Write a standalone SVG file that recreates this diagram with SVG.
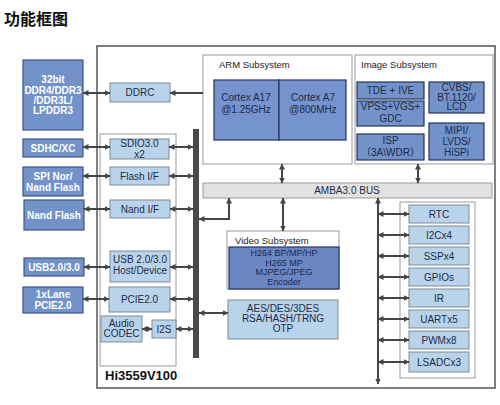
<svg xmlns="http://www.w3.org/2000/svg" width="500" height="405" viewBox="0 0 500 405">
<defs>
<style>
text{font-family:"Liberation Sans",Arial,"Noto Sans CJK SC",sans-serif;}
.ext rect{fill:#7292c9;stroke:#3e5684;stroke-width:1.2;}
.ext text{fill:#fff;font-weight:bold;font-size:10px;text-anchor:middle;}
.lb rect{fill:#b9d4ea;stroke:#7d8b98;stroke-width:1;}
.lb text{fill:#1c2a48;font-size:10px;text-anchor:middle;}
.sub{fill:#fff;stroke:#9a9a9a;stroke-width:1;}
.lbl{fill:#222;font-size:9.5px;}
.db{fill:#7593cc;stroke:#26345a;stroke-width:1.2;}
.dbt{fill:#1c2a48;font-size:10px;text-anchor:middle;}
.cn line,.cn path{stroke:#454545;stroke-width:2;fill:none;}
.bi{marker-start:url(#ah);marker-end:url(#ah);}
.one{marker-end:url(#ah);}
</style>
<marker id="ah" markerUnits="userSpaceOnUse" markerWidth="6" markerHeight="6" refX="5.5" refY="3" orient="auto-start-reverse">
<path d="M0,0 L6,3 L0,6 z" fill="#454545"/>
</marker>
</defs>
<rect width="500" height="405" fill="#fff"/>
<text x="4" y="25" font-size="16" font-weight="bold" fill="#111" style="font-family:'Noto Sans CJK SC',sans-serif">功能框图</text>

<g id="chip"><rect x="97" y="46" width="398" height="342" fill="#fff" stroke="#555" stroke-width="1.5"/></g>
<g id="leftpanel"><rect x="100" y="134" width="76" height="232" class="sub"/>
<text x="105" y="380" font-size="13" font-weight="bold" fill="#111">Hi3559V100</text></g>

<g id="ddr" class="ext"><rect x="23" y="60" width="60" height="70"/>
<text x="53" y="83">32bit</text><text x="53" y="94">DDR4/DDR3</text><text x="53" y="104">/DDR3L/</text><text x="53" y="114">LPDDR3</text></g>
<g id="sdhc" class="ext"><rect x="23" y="139" width="60" height="18"/><text x="53" y="152">SDHC/XC</text></g>
<g id="spi" class="ext"><rect x="23" y="167" width="60" height="29"/><text x="53" y="180">SPI Nor/</text><text x="53" y="191">Nand Flash</text></g>
<g id="nand" class="ext"><rect x="24" y="200" width="60" height="30"/><text x="54" y="219">Nand Flash</text></g>
<g id="usb" class="ext"><rect x="24" y="258" width="60" height="18"/><text x="54" y="271">USB2.0/3.0</text></g>
<g id="pcie" class="ext"><rect x="23" y="287" width="60" height="26"/><text x="53" y="298">1xLane</text><text x="53" y="309">PCIE2.0</text></g>

<g id="ddrc" class="lb"><rect x="110" y="83" width="60" height="19"/><text x="140" y="96">DDRC</text></g>
<g id="sdio" class="lb"><rect x="110" y="139" width="59" height="20"/><text x="139.5" y="147">SDIO3.0</text><text x="139.5" y="158">x2</text></g>
<g id="flashif" class="lb"><rect x="110" y="167" width="59" height="18"/><text x="139.5" y="180">Flash I/F</text></g>
<g id="nandif" class="lb"><rect x="110" y="200" width="60" height="18"/><text x="140" y="213">Nand I/F</text></g>
<g id="usbhd" class="lb"><rect x="110" y="251" width="60" height="31"/><text x="140" y="263">USB 2.0/3.0</text><text x="140" y="274">Host/Device</text></g>
<g id="pcie2" class="lb"><rect x="109" y="287" width="61" height="25"/><text x="139.5" y="303">PCIE2.0</text></g>
<g id="audio" class="lb"><rect x="101" y="316" width="41" height="26"/><text x="121.5" y="327" font-size="9">Audio</text><text x="121.5" y="337" font-size="9">CODEC</text></g>
<g id="i2s" class="lb"><rect x="152" y="320" width="24" height="18"/><text x="164" y="333">I2S</text></g>

<g id="bar"><rect x="193" y="129" width="6" height="229" fill="#4a4a4a"/></g>

<g id="arm"><rect x="203" y="55" width="149" height="109" class="sub"/>
<text x="219" y="68" class="lbl">ARM Subsystem</text>
<rect x="214" y="80" width="65" height="60" class="db"/><rect x="279" y="80" width="67" height="60" class="db"/>
<text x="246" y="101" class="dbt">Cortex A17</text><text x="246" y="113" class="dbt">@1.25GHz</text>
<text x="313" y="101" class="dbt">Cortex A7</text><text x="313" y="113" class="dbt">@800MHz</text></g>

<g id="image"><rect x="355" y="55" width="138" height="109" class="sub"/>
<text x="361" y="68" class="lbl">Image Subsystem</text>
<g class="ext"><rect x="357" y="82" width="67" height="17" style="stroke:#26345a"/><rect x="357" y="101" width="67" height="25" style="stroke:#26345a"/><rect x="357" y="134" width="67" height="26" style="stroke:#26345a"/><rect x="429" y="82" width="55" height="31" style="stroke:#26345a"/><rect x="429" y="123" width="55" height="37" style="stroke:#26345a"/></g>
<text x="390.5" y="94" class="dbt">TDE + IVE</text>
<text x="390.5" y="110" class="dbt">VPSS+VGS+</text><text x="390.5" y="122" class="dbt">GDC</text>
<text x="390.5" y="144" class="dbt">ISP</text><text x="390.5" y="156" class="dbt">（3A\WDR）</text>
<text x="456.5" y="91" class="dbt">CVBS/</text><text x="456.5" y="100.5" class="dbt">BT.1120/</text><text x="456.5" y="110" class="dbt">LCD</text>
<text x="456.5" y="134" class="dbt">MIPI/</text><text x="456.5" y="145" class="dbt">LVDS/</text><text x="456.5" y="156" class="dbt">HiSPi</text></g>

<g id="amba"><rect x="203" y="183" width="289" height="15" fill="#e2e2e2" stroke="#9a9a9a"/>
<text x="347" y="194" font-size="10" fill="#1c2a48" text-anchor="middle">AMBA3.0 BUS</text></g>

<g id="video"><rect x="227" y="231" width="112" height="58" class="sub"/>
<text x="235" y="244" class="lbl">Video Subsystem</text>
<rect x="229" y="247" width="110" height="42" fill="#6a87c4" stroke="#26345a" stroke-width="1.2"/>
<g font-size="9" fill="#1c2a48" text-anchor="middle"><text x="284" y="256">H264 BP/MP/HP</text><text x="284" y="265.5">H265 MP</text><text x="284" y="275">MJPEG/JPEG</text><text x="284" y="284.5">Encoder</text></g></g>

<g id="crypto" class="lb"><rect x="228" y="300" width="110" height="39"/><text x="283" y="312">AES/DES/3DES</text><text x="283" y="322">RSA/HASH/TRNG</text><text x="283" y="332">OTP</text></g>

<g id="periph"><rect x="400" y="202" width="75" height="176" class="sub"/>
<g class="lb">
<rect x="409" y="205" width="60" height="18"/><text x="439" y="218">RTC</text>
<rect x="409" y="226" width="60" height="18"/><text x="439" y="239">I2Cx4</text>
<rect x="409" y="247" width="60" height="18"/><text x="439" y="260">SSPx4</text>
<rect x="409" y="268" width="60" height="18"/><text x="439" y="281">GPIOs</text>
<rect x="409" y="289" width="60" height="18"/><text x="439" y="302">IR</text>
<rect x="409" y="310" width="60" height="18"/><text x="439" y="323">UARTx5</text>
<rect x="409" y="331" width="60" height="18"/><text x="439" y="344">PWMx8</text>
<rect x="409" y="352" width="60" height="20"/><text x="439" y="366">LSADCx3</text>
</g></g>

<g id="connectors" class="cn">
<line x1="83" y1="93" x2="110" y2="93" class="bi"/>
<line x1="203" y1="93" x2="170" y2="93" class="one"/>
<line x1="83" y1="147" x2="110" y2="147" class="bi"/>
<line x1="169" y1="147" x2="193" y2="147" class="bi"/>
<line x1="83" y1="176" x2="110" y2="176" class="bi"/>
<line x1="169" y1="176" x2="193" y2="176" class="bi"/>
<line x1="84" y1="209" x2="110" y2="209" class="bi"/>
<line x1="170" y1="209" x2="193" y2="209" class="bi"/>
<line x1="84" y1="267" x2="110" y2="267" class="bi"/>
<line x1="170" y1="267" x2="193" y2="267" class="bi"/>
<line x1="83" y1="299" x2="109" y2="299" class="bi"/>
<line x1="170" y1="299" x2="193" y2="299" class="bi"/>
<line x1="142" y1="329" x2="152" y2="329" class="bi"/>
<line x1="176" y1="329" x2="193" y2="329" class="bi"/>
<line x1="282" y1="164" x2="282" y2="183" class="bi"/>
<line x1="418" y1="164" x2="418" y2="183" class="bi"/>
<path d="M229,198 V219 H199" class="bi"/>
<line x1="283" y1="198" x2="283" y2="231" class="bi"/>
<line x1="199" y1="313" x2="228" y2="313" class="bi"/>
<line x1="378" y1="198" x2="378" y2="384" class="bi"/>
<line x1="378" y1="214" x2="409" y2="214" class="bi"/>
<line x1="378" y1="235" x2="409" y2="235" class="bi"/>
<line x1="378" y1="256" x2="409" y2="256" class="bi"/>
<line x1="378" y1="277" x2="409" y2="277" class="bi"/>
<line x1="378" y1="298" x2="409" y2="298" class="bi"/>
<line x1="378" y1="319" x2="409" y2="319" class="bi"/>
<line x1="378" y1="340" x2="409" y2="340" class="bi"/>
<line x1="378" y1="362" x2="409" y2="362" class="bi"/>
</g>
</svg>
